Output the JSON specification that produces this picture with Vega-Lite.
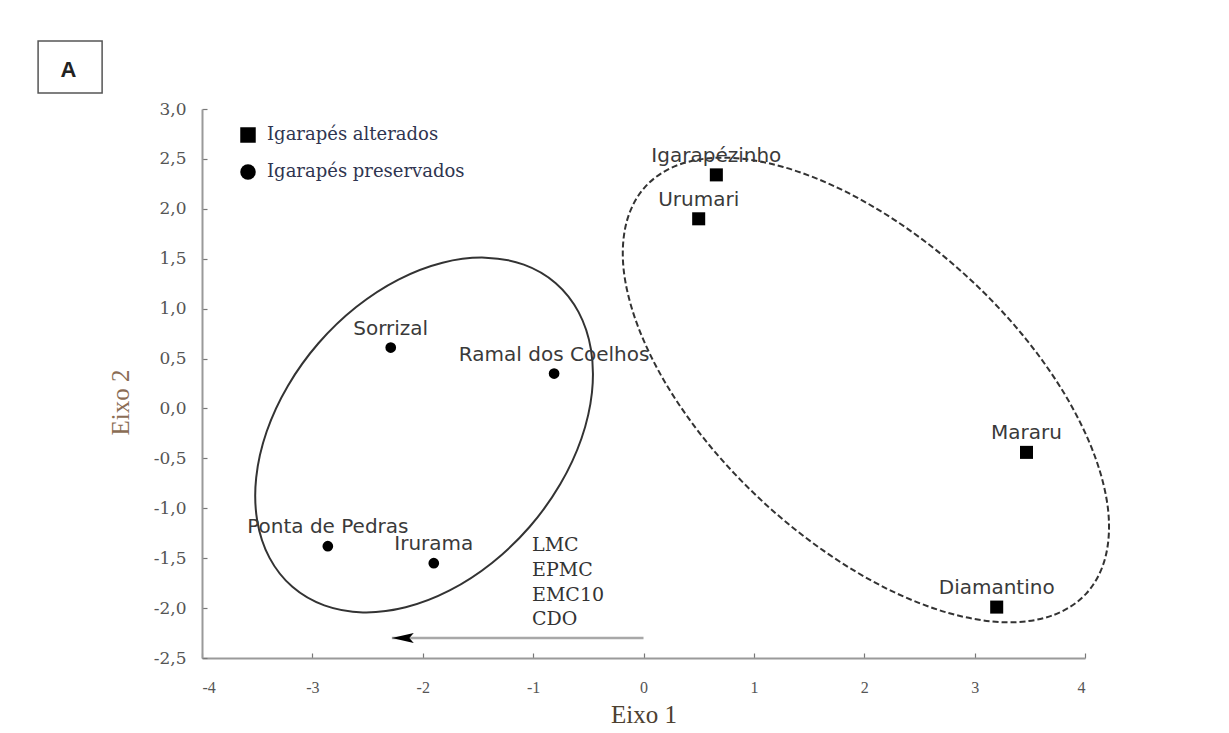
{
  "$schema": "https://vega.github.io/schema/vega-lite/v6.json",
  "width": 883,
  "height": 549,
  "autosize": {"type": "none"},
  "padding": {"left": 202, "top": 109, "right": 144, "bottom": 75},
  "background": "white",
  "config": {
    "view": {"stroke": null},
    "locale": {"number": {"decimal": ",", "thousands": ".", "grouping": [3], "currency": ["", ""], "minus": "-"}},
    "axis": {
      "grid": false,
      "domainColor": "#9a9a9a",
      "domainWidth": 2,
      "tickColor": "#777777",
      "tickWidth": 1.2,
      "tickSize": -5,
      "labelColor": "#555555",
      "titleFont": "Liberation Serif",
      "titleFontWeight": "normal",
      "titleFontSize": 25
    }
  },
  "datasets": {
    "pontos": [
      {"nome": "Igarapézinho", "grupo": "Igarapés alterados", "eixo1": 0.66, "eixo2": 2.34},
      {"nome": "Urumari", "grupo": "Igarapés alterados", "eixo1": 0.50, "eixo2": 1.90},
      {"nome": "Mararu", "grupo": "Igarapés alterados", "eixo1": 3.47, "eixo2": -0.44},
      {"nome": "Diamantino", "grupo": "Igarapés alterados", "eixo1": 3.20, "eixo2": -1.99},
      {"nome": "Sorrizal", "grupo": "Igarapés preservados", "eixo1": -2.29, "eixo2": 0.61},
      {"nome": "Ramal dos Coelhos", "grupo": "Igarapés preservados", "eixo1": -0.81, "eixo2": 0.35},
      {"nome": "Ponta de Pedras", "grupo": "Igarapés preservados", "eixo1": -2.86, "eixo2": -1.38},
      {"nome": "Irurama", "grupo": "Igarapés preservados", "eixo1": -1.90, "eixo2": -1.55}
    ],
    "elipses": [
      {"g": "preservados", "o": 1, "x": -0.795, "y": 1.255},
      {"g": "preservados", "o": 2, "x": -0.588, "y": 0.965},
      {"g": "preservados", "o": 3, "x": -0.476, "y": 0.591},
      {"g": "preservados", "o": 4, "x": -0.467, "y": 0.160},
      {"g": "preservados", "o": 5, "x": -0.562, "y": -0.301},
      {"g": "preservados", "o": 6, "x": -0.755, "y": -0.760},
      {"g": "preservados", "o": 7, "x": -1.031, "y": -1.185},
      {"g": "preservados", "o": 8, "x": -1.373, "y": -1.548},
      {"g": "preservados", "o": 9, "x": -1.756, "y": -1.823},
      {"g": "preservados", "o": 10, "x": -2.155, "y": -1.992},
      {"g": "preservados", "o": 11, "x": -2.542, "y": -2.043},
      {"g": "preservados", "o": 12, "x": -2.892, "y": -1.973},
      {"g": "preservados", "o": 13, "x": -3.181, "y": -1.787},
      {"g": "preservados", "o": 14, "x": -3.388, "y": -1.497},
      {"g": "preservados", "o": 15, "x": -3.500, "y": -1.123},
      {"g": "preservados", "o": 16, "x": -3.509, "y": -0.692},
      {"g": "preservados", "o": 17, "x": -3.414, "y": -0.231},
      {"g": "preservados", "o": 18, "x": -3.221, "y": 0.228},
      {"g": "preservados", "o": 19, "x": -2.945, "y": 0.653},
      {"g": "preservados", "o": 20, "x": -2.603, "y": 1.016},
      {"g": "preservados", "o": 21, "x": -2.220, "y": 1.291},
      {"g": "preservados", "o": 22, "x": -1.821, "y": 1.460},
      {"g": "preservados", "o": 23, "x": -1.434, "y": 1.511},
      {"g": "preservados", "o": 24, "x": -1.084, "y": 1.441},
      {"g": "alterados", "o": 1, "x": 4.009, "y": -1.857},
      {"g": "alterados", "o": 2, "x": 3.699, "y": -2.076},
      {"g": "alterados", "o": 3, "x": 3.274, "y": -2.142},
      {"g": "alterados", "o": 4, "x": 2.764, "y": -2.049},
      {"g": "alterados", "o": 5, "x": 2.202, "y": -1.804},
      {"g": "alterados", "o": 6, "x": 1.627, "y": -1.422},
      {"g": "alterados", "o": 7, "x": 1.080, "y": -0.933},
      {"g": "alterados", "o": 8, "x": 0.595, "y": -0.366},
      {"g": "alterados", "o": 9, "x": 0.208, "y": 0.238},
      {"g": "alterados", "o": 10, "x": -0.056, "y": 0.839},
      {"g": "alterados", "o": 11, "x": -0.180, "y": 1.394},
      {"g": "alterados", "o": 12, "x": -0.153, "y": 1.868},
      {"g": "alterados", "o": 13, "x": 0.021, "y": 2.227},
      {"g": "alterados", "o": 14, "x": 0.331, "y": 2.446},
      {"g": "alterados", "o": 15, "x": 0.756, "y": 2.512},
      {"g": "alterados", "o": 16, "x": 1.266, "y": 2.419},
      {"g": "alterados", "o": 17, "x": 1.828, "y": 2.174},
      {"g": "alterados", "o": 18, "x": 2.403, "y": 1.792},
      {"g": "alterados", "o": 19, "x": 2.950, "y": 1.303},
      {"g": "alterados", "o": 20, "x": 3.435, "y": 0.736},
      {"g": "alterados", "o": 21, "x": 3.822, "y": 0.132},
      {"g": "alterados", "o": 22, "x": 4.086, "y": -0.469},
      {"g": "alterados", "o": 23, "x": 4.210, "y": -1.024},
      {"g": "alterados", "o": 24, "x": 4.183, "y": -1.498}
    ],
    "vetor": [
      {"variaveis": "LMC, EPMC, EMC10, CDO", "x": 0, "xend": -2.28, "y": -2.3}
    ]
  },
  "layer": [
    {
      "data": {"name": "elipses"},
      "transform": [{"filter": "datum.g === 'preservados'"}],
      "mark": {"type": "line", "interpolate": "cardinal-closed", "color": "#333333", "strokeWidth": 2},
      "encoding": {
        "x": {
          "field": "x", "type": "quantitative",
          "scale": {"domain": [-4, 4], "nice": false, "zero": false},
          "axis": {"title": "Eixo 1", "values": [-4, -3, -2, -1, 0, 1, 2, 3, 4], "format": "d", "labelFont": "Liberation Serif", "labelFontSize": 16, "labelPadding": 26, "titlePadding": 7, "titleColor": "#4d4030"}
        },
        "y": {
          "field": "y", "type": "quantitative",
          "scale": {"domain": [-2.5, 3], "nice": false, "zero": false},
          "axis": {"title": "Eixo 2", "values": [-2.5, -2, -1.5, -1, -0.5, 0, 0.5, 1, 1.5, 2, 2.5, 3], "format": ".1f", "labelFont": "DejaVu Serif", "labelFontSize": 17, "labelPadding": 21, "titleX": -82, "titleY": 293, "titleBaseline": "middle", "titleColor": "#8b6d55"}
        },
        "order": {"field": "o", "type": "quantitative"}
      }
    },
    {
      "data": {"name": "elipses"},
      "transform": [{"filter": "datum.g === 'alterados'"}],
      "mark": {"type": "line", "interpolate": "cardinal-closed", "color": "#333333", "strokeWidth": 2, "strokeDash": [6, 3]},
      "encoding": {
        "x": {"field": "x", "type": "quantitative"},
        "y": {"field": "y", "type": "quantitative"},
        "order": {"field": "o", "type": "quantitative"}
      }
    },
    {
      "data": {"name": "vetor"},
      "mark": {"type": "rule", "color": "#a8a8a8", "strokeWidth": 2.5},
      "encoding": {
        "x": {"field": "x", "type": "quantitative"},
        "x2": {"field": "xend"},
        "y": {"field": "y", "type": "quantitative"}
      }
    },
    {
      "data": {"name": "vetor"},
      "mark": {"type": "point", "shape": "M0,0L2,-0.45L1.6,0L2,0.45Z", "size": 480, "filled": true, "color": "black", "opacity": 1},
      "encoding": {
        "x": {"field": "xend", "type": "quantitative"},
        "y": {"field": "y", "type": "quantitative"}
      }
    },
    {
      "data": {"name": "vetor"},
      "mark": {"type": "text", "text": ["LMC", "EPMC", "EMC10", "CDO"], "align": "left", "baseline": "top", "lineHeight": 24.7, "font": "DejaVu Serif", "fontSize": 19, "color": "#333333"},
      "encoding": {
        "x": {"datum": -1.01},
        "y": {"datum": -1.28}
      }
    },
    {
      "data": {"name": "pontos"},
      "transform": [{"filter": "datum.grupo === 'Igarapés alterados'"}],
      "mark": {"type": "point", "filled": true, "color": "black", "opacity": 1, "size": 170},
      "encoding": {
        "x": {"field": "eixo1", "type": "quantitative"},
        "y": {"field": "eixo2", "type": "quantitative"},
        "shape": {
          "field": "grupo", "type": "nominal",
          "scale": {"domain": ["Igarapés alterados", "Igarapés preservados"], "range": ["square", "circle"]},
          "legend": {
            "title": null, "orient": "none", "legendX": 37, "legendY": 17, "padding": 0,
            "labelFont": "DejaVu Serif", "labelFontSize": 18, "labelColor": "#2f3550", "labelLimit": 400,
            "symbolSize": 240, "symbolFillColor": "black", "symbolStrokeColor": "black", "symbolStrokeWidth": 0,
            "rowPadding": 19, "labelOffset": 10
          }
        }
      }
    },
    {
      "data": {"name": "pontos"},
      "transform": [{"filter": "datum.grupo === 'Igarapés preservados'"}],
      "mark": {"type": "point", "filled": true, "color": "black", "opacity": 1, "size": 115},
      "encoding": {
        "x": {"field": "eixo1", "type": "quantitative"},
        "y": {"field": "eixo2", "type": "quantitative"},
        "shape": {"field": "grupo", "type": "nominal"}
      }
    },
    {
      "data": {"name": "pontos"},
      "mark": {"type": "text", "font": "DejaVu Sans", "fontSize": 20, "color": "#3a3a3a", "baseline": "middle", "dy": -19},
      "encoding": {
        "x": {"field": "eixo1", "type": "quantitative"},
        "y": {"field": "eixo2", "type": "quantitative"},
        "text": {"field": "nome"}
      }
    },
    {
      "data": {"values": [{"painel": "A"}]},
      "mark": {"type": "rect", "fill": "white", "stroke": "#555555", "strokeWidth": 1.5},
      "encoding": {
        "x": {"datum": -5.485},
        "x2": {"datum": -4.905},
        "y": {"datum": 3.682},
        "y2": {"datum": 3.161}
      }
    },
    {
      "data": {"values": [{"painel": "A"}]},
      "mark": {"type": "text", "font": "Liberation Sans", "fontSize": 22, "fontWeight": "bold", "color": "#222222", "baseline": "middle"},
      "encoding": {
        "x": {"datum": -5.21},
        "y": {"datum": 3.39},
        "text": {"field": "painel"}
      }
    }
  ]
}
